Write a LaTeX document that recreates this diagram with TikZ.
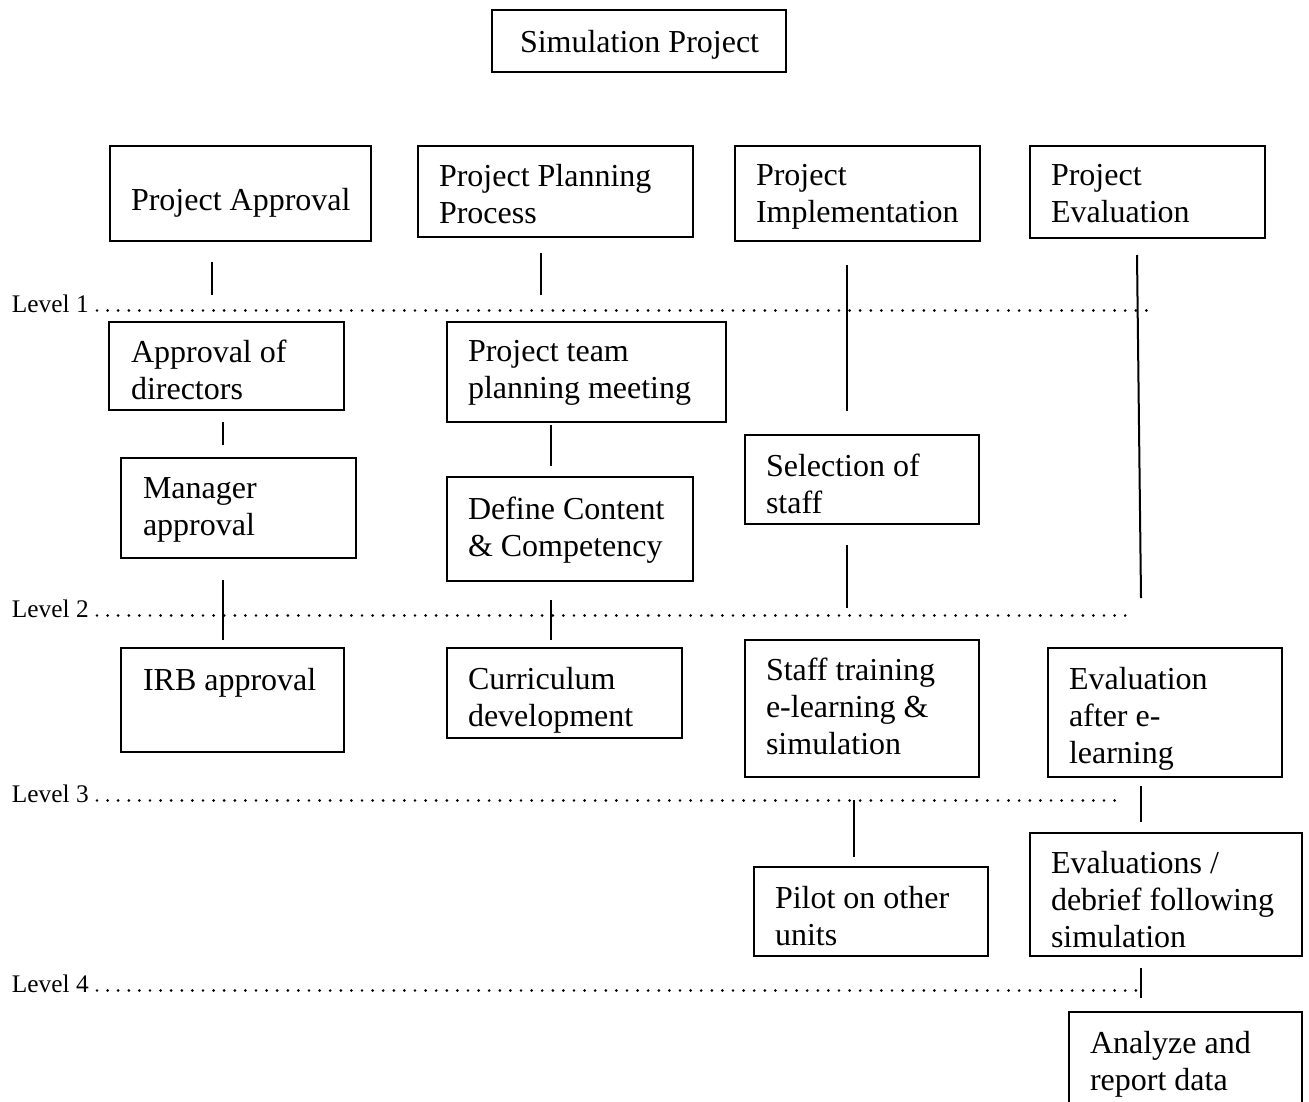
\documentclass[tikz,border=0pt]{standalone}
\usepackage{fontspec}
\setmainfont{Liberation Serif}
\newcommand\mybox[5]{\node[box, minimum width={(#4-#2)*0.75pt}, minimum height={(#5-#3)*0.75pt}] (#1) at ({(#2+#4)/2},{(#3+#5)/2}) {};}
\newcommand\myvline[5]{\coordinate (#1a) at (#2,#3); \coordinate (#1b) at (#4,#5); \draw[link] (#1a) -- (#1b);}
\newcommand\dotrowline[4]{\node[lvl] (#1) at (12,#2) {#4}; \coordinate (#1s) at (97,{#2-1.5}); \coordinate (#1e) at (#3,{#2-1.5}); \draw[dotrow] (#1s) -- (#1e);}
\begin{document}
\begin{tikzpicture}[x=0.75pt,y=-0.75pt,
 box/.style={draw, line width=1.5pt, inner sep=0pt, outer sep=0pt},
 txt/.style={anchor=north west, inner sep=0pt, outer sep=0pt, align=left, font=\fontsize{24}{27.75}\selectfont},
 lvl/.style={anchor=base west, inner sep=0pt, outer sep=0pt, font=\fontsize{19}{20}\selectfont},
 dotrow/.style={line width=2.2pt, line cap=round, dash pattern=on 0pt off 7.95pt},
 link/.style={line width=1.5pt}]
\useasboundingbox (0,0) rectangle (1309,1102);

% boxes
\mybox{sim}{492}{10}{786}{72}
\mybox{appr}{110}{146}{371}{241}
\mybox{plan}{418}{146}{693}{237}
\mybox{impl}{735}{146}{980}{241}
\mybox{eval}{1030}{146}{1265}{238}
\mybox{dir}{109}{322}{344}{410}
\mybox{team}{447}{322}{726}{422}
\mybox{mgr}{121}{458}{356}{558}
\mybox{def}{447}{477}{693}{581}
\mybox{sel}{745}{435}{979}{524}
\mybox{irb}{121}{648}{344}{752}
\mybox{cur}{447}{648}{682}{738}
\mybox{trn}{745}{640}{979}{777}
\mybox{evl}{1048}{648}{1282}{777}
\mybox{pil}{754}{867}{988}{956}
\mybox{deb}{1030}{833}{1302}{956}
\mybox{ana}{1069}{1012}{1302}{1110}

% texts
\node[txt] (t-sim) at (520,30) {Simulation Project};
\node[txt] (t-appr) at (131,188) {Project Approval};
\node[txt] (t-plan) at (439,164) {Project Planning\\Process};
\node[txt] (t-impl) at (756,164) {Project\\Implementation};
\node[txt] (t-eval) at (1051,164) {Project\\Evaluation};
\node[txt] (t-dir) at (131,340) {Approval of\\directors};
\node[txt] (t-team) at (468,340) {Project team\\planning meeting};
\node[txt] (t-mgr) at (143,478) {Manager\\approval};
\node[txt] (t-def) at (468,497) {Define Content\\\& Competency};
\node[txt] (t-sel) at (766,454) {Selection of\\staff};
\node[txt] (t-irb) at (143,668) {IRB approval};
\node[txt] (t-cur) at (468,667) {Curriculum\\development};
\node[txt] (t-trn) at (766,658) {Staff training\\e-learning \&\\simulation};
\node[txt] (t-evl) at (1069,667) {Evaluation\\after e-\\learning};
\node[txt] (t-pil) at (775,886) {Pilot on other\\units};
\node[txt] (t-deb) at (1051,851) {Evaluations /\\debrief following\\simulation};
\node[txt] (t-ana) at (1090,1031) {Analyze and\\report data};

% level rows
\dotrowline{L1}{312}{1155}{Level 1}
\dotrowline{L2}{617}{1135}{Level 2}
\dotrowline{L3}{802}{1125}{Level 3}
\dotrowline{L4}{992}{1142}{Level 4}

% vertical lines
\myvline{va}{212}{262}{212}{295}
\myvline{vb}{541}{253}{541}{295}
\myvline{vc}{847}{265}{847}{411}
\myvline{vd}{1137}{255}{1141}{598}
\myvline{ve}{223}{422}{223}{445}
\myvline{vf}{551}{425}{551}{466}
\myvline{vg}{223}{580}{223}{640}
\myvline{vh}{551}{600}{551}{640}
\myvline{vi}{847}{545}{847}{608}
\myvline{vj}{1141}{786}{1141}{822}
\myvline{vk}{854}{800}{854}{857}
\myvline{vl}{1141}{968}{1141}{998}
\end{tikzpicture}
\end{document}
